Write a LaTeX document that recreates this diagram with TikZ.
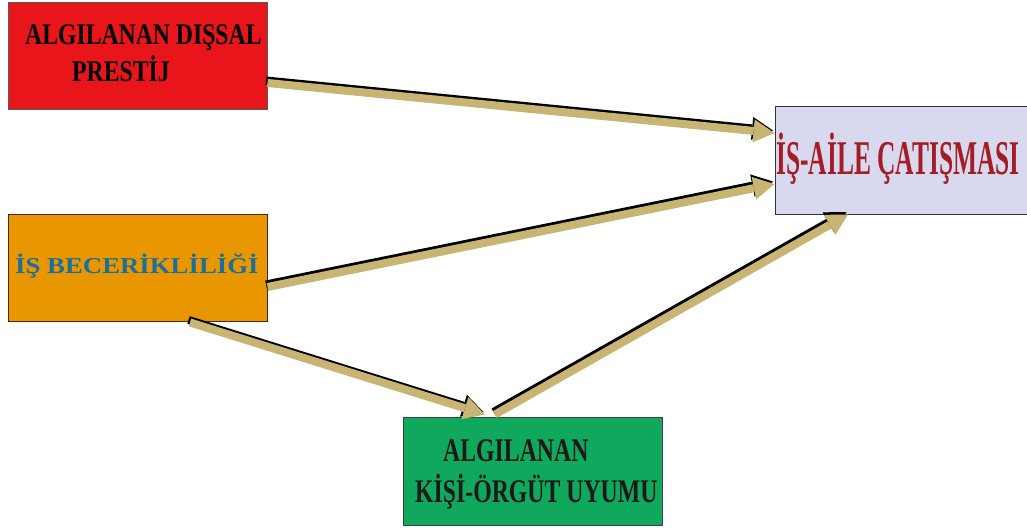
\documentclass[tikz,border=0pt]{standalone}
\usepackage{fontspec}
\setmainfont{Liberation Serif}
\usetikzlibrary{arrows.meta}

\definecolor{prestijred}{HTML}{E8151A}
\definecolor{beceriorange}{HTML}{E89700}
\definecolor{uyumgreen}{HTML}{0FA85C}
\definecolor{catismalav}{HTML}{D8D9EF}
\definecolor{becerifont}{HTML}{1B6F9C}
\definecolor{catismafont}{HTML}{A51D24}
\definecolor{arrowtan}{HTML}{C8B473}

\tikzset{
    box/.style={draw=#1, line width=1pt, minimum width=259pt, minimum height=107pt, inner sep=0pt},
    boxtext/.style={anchor=base west, inner sep=0pt},
    fatarrow/.style={draw=arrowtan, line width=8pt, -{Triangle[length=21pt,width=23pt,line width=0pt]},
        preaction={draw=black, line width=8pt, -{Triangle[length=21pt,width=23pt,line width=0pt]},
            transform canvas={shift={(-1.5pt,2.5pt)}}}}
}

\begin{document}
\begin{tikzpicture}[x=1pt, y=1pt]
    \useasboundingbox (0,0) rectangle (1027,527);

    % the four boxes
    \node[box=black!65, fill=prestijred] (prestij) at (137.5,470.5) {};
    \node[box=black!70!orange, fill=beceriorange] (beceri) at (137.5,258.5) {};
    \node[box=black!75, fill=uyumgreen] (uyum) at (533,55.5) {};
    \node[box=black!80, fill=catismalav, minimum width=252pt, minimum height=108pt] (catisma) at (901,366) {};

    % texts
    \node[boxtext] (prestij1) at (25,482) {\fontsize{30}{30}\selectfont\bfseries\scalebox{0.79}[1]{ALGILANAN DIŞSAL}};
    \node[boxtext] (prestij2) at (72,445) {\fontsize{30}{30}\selectfont\bfseries\scalebox{0.79}[1]{PRESTİJ}};
    \node[boxtext, text=becerifont] (beceri1) at (15,253.7) {\fontsize{22.7}{22.7}\selectfont\bfseries\scalebox{1.18}[1]{İŞ BECERİKLİLİĞİ}};
    \node[boxtext, text=black!90] (uyum1) at (443,65) {\fontsize{33}{33}\selectfont\bfseries\scalebox{0.72}[1]{ALGILANAN}};
    \node[boxtext, text=black!90] (uyum2) at (415,25) {\fontsize{33}{33}\selectfont\bfseries\scalebox{0.72}[1]{KİŞİ-ÖRGÜT UYUMU}};
    \node[boxtext, text=catismafont] (catisma1) at (776,352) {\fontsize{48.5}{48.5}\selectfont\bfseries\scalebox{0.525}[1]{İŞ-AİLE ÇATIŞMASI}};

    % arrows
    \draw[fatarrow] ([yshift=-26.5pt]prestij.east) -- ([yshift=28pt]catisma.west);
    \draw[fatarrow] ([yshift=-18.5pt]beceri.east) -- ([yshift=-23pt]catisma.west);
    \draw[fatarrow] ([xshift=52.5pt]beceri.south) -- ([xshift=-48pt,yshift=3pt]uyum.north);
    \draw[fatarrow] ([xshift=-38pt,yshift=3pt]uyum.north) -- ([xshift=-53pt,yshift=1pt]catisma.south);
\end{tikzpicture}
\end{document}
